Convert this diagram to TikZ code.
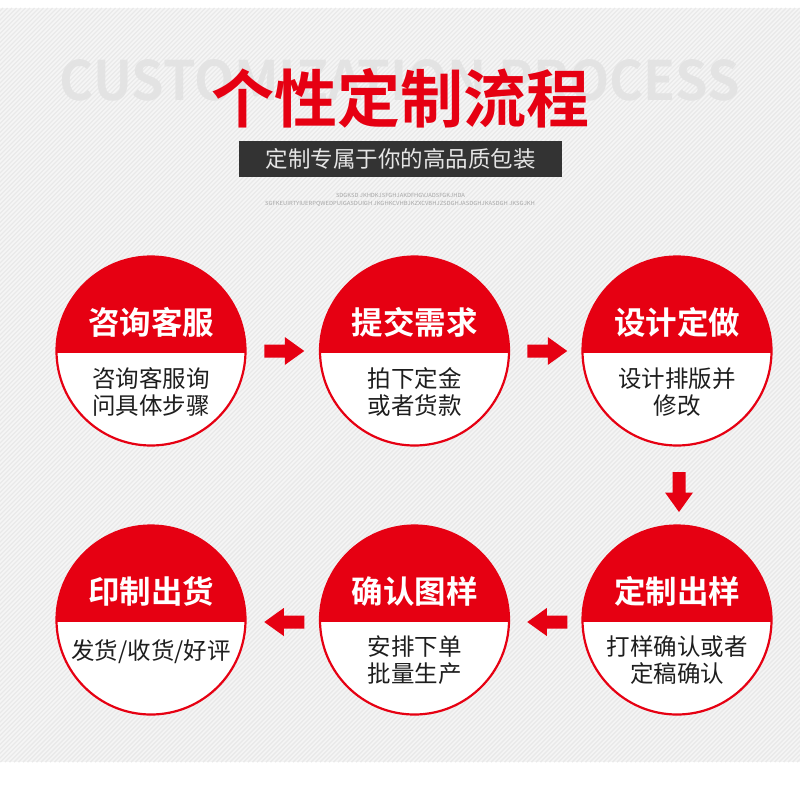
\documentclass[tikz,border=0pt]{standalone}
\usepackage{fontspec}
\usepackage{graphicx}
\usetikzlibrary{calc}
\newfontfamily\cjk[BoldFont={Noto Sans CJK SC Bold}]{Noto Sans CJK SC}
\definecolor{brand}{HTML}{E60012}
\definecolor{bgbase}{HTML}{F5F5F5}
\definecolor{bgline}{HTML}{E9E9E9}
\definecolor{ghost}{HTML}{E3E3E3}
\definecolor{darkbar}{HTML}{333333}
\definecolor{bodytext}{HTML}{1E1E1E}
\tikzset{
  stepcircle/.style={circle, minimum size=189pt, inner sep=0pt, fill=white},
  stepring/.style={draw=brand, line width=2.2pt},
  steptitle/.style={text=white, font=\cjk\bfseries\fontsize{31.5}{34}\selectfont, inner sep=0pt},
  stepbody/.style={text=bodytext, font=\cjk\fontsize{23.5}{27.5}\selectfont, align=center, inner sep=0pt},
  flowarrow/.pic={\fill[brand] (-20,-6.5) -- (0.5,-6.5) -- (0.5,-14) -- (20,0) -- (0.5,14) -- (0.5,6.5) -- (-20,6.5) -- cycle;}
}
\begin{document}
\begin{tikzpicture}[x=1pt,y=-1pt]
\useasboundingbox (0,0) rectangle (800,800);
\fill[white] (0,0) rectangle (800,800);
% striped background
\fill[bgbase] (0,8) rectangle (800,762);
\begin{scope}
  \clip (0,8) rectangle (800,762);
  \foreach \i in {-760,-755.5,...,800} {
    \draw[bgline, line width=1.4pt] (\i,762) -- ({\i+754},8);
  }
\end{scope}
% header
\node[text=ghost, inner sep=0pt] (ghosttext) at (400,80)
  {\resizebox{680pt}{41pt}{\cjk\bfseries CUSTOMIZATION PROCESS}};
\node[text=brand, font=\cjk\bfseries\fontsize{63}{66}\selectfont, inner sep=0pt] (title) at (400.5,98) {个性定制流程};
\fill[darkbar] (239,141) rectangle (562,177);
\node[text=white!90!black, font=\cjk\fontsize{22.5}{25}\selectfont, inner sep=0pt] (subtitle) at (400.5,159) {定制专属于你的高品质包装};
\node[text=black!35, inner sep=0pt] (tiny1) at (400.5,195)
  {\resizebox{129pt}{4.2pt}{\cjk SDGKSD JKHDKJSFGHJAKDFHGVJADSFGKJHDA}};
\node[text=black!35, inner sep=0pt] (tiny2) at (400,204)
  {\resizebox{270pt}{4.2pt}{\cjk SGFKEUIRTYIUERPQWEDPUIGASDUIGH JKGHKCVHBJKZXCVBHJZSDGHJASDGHJKASDGH JKSGJKH}};
% circles
\foreach \n/\x/\y in {c1/151/351, c2/414.5/351, c3/677/351, c4/151/620, c5/414.5/620, c6/677/620} {
  \node[stepcircle] (\n) at (\x,\y) {};
  \begin{scope}
    \clip (\n.center) circle (94.5pt);
    \fill[brand] ($(\n.center)+(-100,-100)$) rectangle ($(\n.center)+(100,1.5)$);
  \end{scope}
  \draw[stepring] (\n.center) circle (94.5pt);
}
% titles
\node[steptitle] (t1) at ($(c1)+(0,-29)$) {咨询客服};
\node[steptitle] (t2) at ($(c2)+(0,-29)$) {提交需求};
\node[steptitle] (t3) at ($(c3)+(0,-29)$) {设计定做};
\node[steptitle] (t4) at ($(c4)+(0,-29)$) {印制出货};
\node[steptitle] (t5) at ($(c5)+(0,-29)$) {确认图样};
\node[steptitle] (t6) at ($(c6)+(0,-29)$) {定制出样};
% bodies
\node[stepbody] (b1) at ($(c1)+(0,41)$) {咨询客服询\\问具体步骤};
\node[stepbody] (b2) at ($(c2)+(0,41)$) {拍下定金\\或者货款};
\node[stepbody] (b3) at ($(c3)+(0,41)$) {设计排版并\\修改};
\node[stepbody] (b4) at ($(c4)+(0,32)$) {发货/收货/好评};
\node[stepbody] (b5) at ($(c5)+(0,40)$) {安排下单\\批量生产};
\node[stepbody] (b6) at ($(c6)+(0,40)$) {打样确认或者\\定稿确认};
% arrows
\pic at ($(c1)!0.5!(c2)+(1.5,0)$) {flowarrow};
\pic at ($(c2)!0.5!(c3)+(1.5,0)$) {flowarrow};
\pic[rotate=-90] at ($(c3)!0.5!(c6)+(2,6.5)$) {flowarrow};
\pic[rotate=180] at ($(c5)!0.5!(c6)+(1.5,2)$) {flowarrow};
\pic[rotate=180] at ($(c4)!0.5!(c5)+(1.5,2)$) {flowarrow};
\end{tikzpicture}
\end{document}
